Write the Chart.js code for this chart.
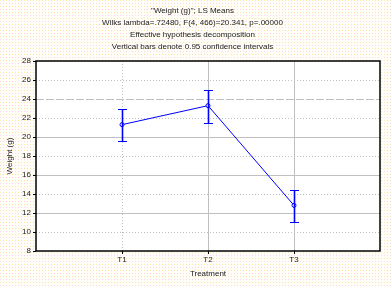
<!DOCTYPE html>
<html>
<head>
<meta charset="utf-8">
<script src="https://cdn.jsdelivr.net/npm/chart.js@4.4.0/dist/chart.umd.min.js"></script>
<style>
    html, body { margin: 0; padding: 0; }
    body { width: 391px; height: 287px; overflow: hidden; }
    #wrap { width: 391px; height: 287px; position: relative; }
</style>
</head>
<body>
<div id="wrap"><canvas id="myChart" width="391" height="287"></canvas></div>
<script>
let categories = ["T1", "T2", "T3"];
let means = [21.3, 23.3, 12.8];
let upper = [23.0, 24.9, 14.4];
let lower = [19.6, 21.5, 11.05];
let yTicks = [8, 10, 12, 14, 16, 18, 20, 22, 24, 26, 28];
let titleLines = [
    "\"Weight (g)\"; LS Means",
    "Wilks lambda=.72480, F(4, 466)=20.341, p=.00000",
    "Effective hypothesis decomposition",
    "Vertical bars denote 0.95 confidence intervals"
];

// dotted pink/yellow background like the original
function makeBackground() {
    let c = document.createElement("canvas");
    c.width = 6;
    c.height = 6;
    let g = c.getContext("2d");
    g.fillStyle = "#fffdf8";
    g.fillRect(0, 0, 6, 6);
    g.fillStyle = "#fde9a8";
    g.fillRect(0, 0, 1, 1);
    g.fillRect(3, 3, 1, 1);
    g.fillStyle = "#fbd3e3";
    g.fillRect(3, 0, 1, 1);
    g.fillRect(0, 3, 1, 1);
    document.body.style.background = "url(" + c.toDataURL() + ")";
}
makeBackground();

let points = means.map((m, i) => ({x: i + 1, y: m}));

const frameAndGrid = {
    id: "frameAndGrid",
    beforeDatasetsDraw(chart) {
        const ctx = chart.ctx;
        const a = chart.chartArea;
        const xs = chart.scales.x;
        const ys = chart.scales.y;
        ctx.save();
        ctx.fillStyle = "#ffffff";
        ctx.fillRect(a.left, a.top, a.right - a.left, a.bottom - a.top);
        ctx.strokeStyle = "#c0c0c0";
        ctx.lineWidth = 1;
        yTicks.forEach(v => {
            if (v === yTicks[0] || v === yTicks[yTicks.length - 1]) return;
            if (v === 24) ctx.setLineDash([8, 2]);
            else if (v % 4 === 0) ctx.setLineDash([]);
            else ctx.setLineDash([1, 2]);
            let y = Math.round(ys.getPixelForValue(v)) + 0.5;
            ctx.beginPath();
            ctx.moveTo(a.left, y);
            ctx.lineTo(a.right, y);
            ctx.stroke();
        });
        categories.forEach((c, i) => {
            ctx.setLineDash(i === 0 ? [1, 2] : []);
            let x = Math.round(xs.getPixelForValue(i + 1)) + 0.5;
            ctx.beginPath();
            ctx.moveTo(x, a.top);
            ctx.lineTo(x, a.bottom);
            ctx.stroke();
        });
        ctx.restore();
    },
    afterDatasetsDraw(chart) {
        const ctx = chart.ctx;
        const a = chart.chartArea;
        const xs = chart.scales.x;
        const ys = chart.scales.y;
        ctx.save();
        // error bars
        ctx.strokeStyle = "#0000ff";
        means.forEach((m, i) => {
            let x = Math.round(xs.getPixelForValue(i + 1)) + 0.5;
            let yt = Math.round(ys.getPixelForValue(upper[i])) + 0.5;
            let yb = Math.round(ys.getPixelForValue(lower[i])) + 0.5;
            ctx.lineWidth = 1.6;
            ctx.beginPath();
            ctx.moveTo(x, yt);
            ctx.lineTo(x, yb);
            ctx.stroke();
            ctx.lineWidth = 1.2;
            ctx.beginPath();
            ctx.moveTo(x - 4.5, yt);
            ctx.lineTo(x + 4.5, yt);
            ctx.moveTo(x - 4.5, yb);
            ctx.lineTo(x + 4.5, yb);
            ctx.stroke();
        });
        // frame
        ctx.strokeStyle = "#000000";
        ctx.lineWidth = 1.5;
        ctx.strokeRect(a.left, a.top, a.right - a.left, a.bottom - a.top);
        ctx.restore();
    }
};

const ctx = document.getElementById("myChart").getContext("2d");
const myChart = new Chart(ctx, {
    type: "line",
    data: {
        datasets: [{
            data: points,
            borderColor: "#0000ff",
            borderWidth: 1,
            pointRadius: 2,
            pointBorderWidth: 1,
            pointBackgroundColor: "#ffffff",
            pointBorderColor: "#0000ff",
            tension: 0
        }]
    },
    options: {
        responsive: false,
        animation: false,
        layout: {padding: {left: 5, right: 11, top: 0, bottom: 8}},
        plugins: {
            legend: {display: false},
            tooltip: {enabled: false},
            title: {
                display: true,
                text: titleLines,
                color: "#222222",
                font: {family: "Liberation Sans", size: 8, weight: "normal", lineHeight: "12px"},
                padding: {top: 5, bottom: 8}
            }
        },
        scales: {
            x: {
                type: "linear",
                min: 0,
                max: 4,
                afterBuildTicks: scale => {
                    scale.ticks = categories.map((c, i) => ({value: i + 1}));
                },
                afterFit: scale => { scale.height = 28; },
                grid: {drawOnChartArea: false, tickLength: 3, color: "#000000"},
                border: {display: false},
                ticks: {
                    callback: (v) => categories[v - 1] || "",
                    color: "#222222",
                    padding: 1,
                    maxRotation: 0,
                    font: {family: "Liberation Sans", size: 8}
                },
                title: {
                    display: true,
                    text: "Treatment",
                    color: "#222222",
                    padding: {top: 4, bottom: 0},
                    font: {family: "Liberation Sans", size: 8}
                }
            },
            y: {
                min: 8,
                max: 28,
                afterBuildTicks: scale => {
                    scale.ticks = yTicks.map(v => ({value: v}));
                },
                afterFit: scale => { scale.width = 31; },
                grid: {drawOnChartArea: false, tickLength: 3, color: "#000000"},
                border: {display: false},
                ticks: {
                    color: "#222222",
                    padding: 2,
                    font: {family: "Liberation Sans", size: 8}
                },
                title: {
                    display: true,
                    text: "Weight (g)",
                    color: "#222222",
                    padding: {top: 0, bottom: 2},
                    font: {family: "Liberation Sans", size: 8}
                }
            }
        }
    },
    plugins: [frameAndGrid]
});
</script>
</body>
</html>
